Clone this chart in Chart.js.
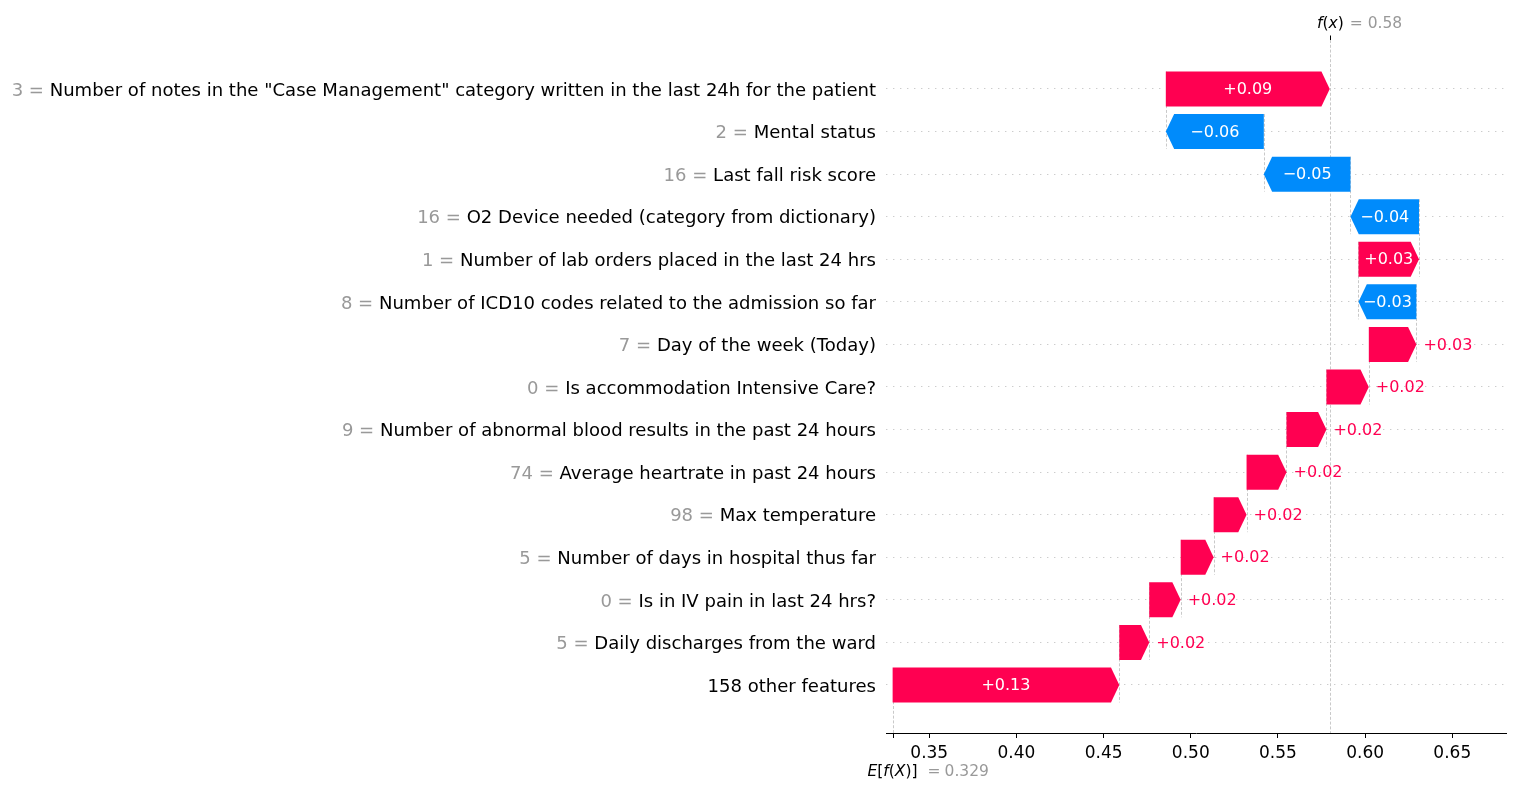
<!DOCTYPE html>
<html><head><meta charset="utf-8">
<style>html,body{margin:0;padding:0;background:#fff;} #wrap{width:1514px;height:790px;position:relative}</style>
<script src="https://cdn.jsdelivr.net/npm/chart.js@4/dist/chart.umd.min.js"></script>
</head><body><div id="wrap"><canvas id="c" width="1514" height="790"></canvas></div>
<script>
// ---------------- data ----------------
const featureNames = [
  'Number of notes in the "Case Management" category written in the last 24h for the patient',
  'Mental status',
  'Last fall risk score',
  'O2 Device needed (category from dictionary)',
  'Number of lab orders placed in the last 24 hrs',
  'Number of ICD10 codes related to the admission so far',
  'Day of the week (Today)',
  'Is accommodation Intensive Care?',
  'Number of abnormal blood results in the past 24 hours',
  'Average heartrate in past 24 hours',
  'Max temperature',
  'Number of days in hospital thus far',
  'Is in IV pain in last 24 hrs?',
  'Daily discharges from the ward',
  '158 other features'
];
const featureValues = ['3','2','16','16','1','8','7','0','9','74','98','5','0','5',''];
const shapValues = [0.094, -0.0562, -0.0497, -0.0393, 0.0347, -0.0332, 0.0273, 0.0243,
                    0.0229, 0.0229, 0.0189, 0.0189, 0.0180, 0.0172, 0.1300];
const baseValue = 0.329;
const xTicks = [0.35, 0.40, 0.45, 0.50, 0.55, 0.60, 0.65];
const xMin = 0.3252, xMax = 0.6808;

// ---------------- styles ----------------
const RED = '#ff0051', BLUE = '#008bfb', GREY = '#999999';
const FAM = '"DejaVu Sans", sans-serif';
const Y_FONT_SIZE = 18.05;
const BAR_FONT = '16px ' + FAM;
const HEAD = 8.3;

// cumulative ranges (bottom row first)
const n = shapValues.length;
const ranges = new Array(n);
let acc = baseValue;
for (let i = n - 1; i >= 0; i--) { ranges[i] = [acc, acc + shapValues[i]]; acc += shapValues[i]; }
const fx = acc;

function fmtTrim(v, d) { let s = v.toFixed(d); if (s.indexOf('.') >= 0) s = s.replace(/0+$/, '').replace(/\.$/, ''); return s; }
function fmtSigned(v) { const s = Math.abs(v).toFixed(2); return (v >= 0 ? '+' : '\u2212') + s; }

const waterfall = {
  id: 'waterfall',
  beforeDatasetsDraw(chart) {
    const ctx = chart.ctx, xs = chart.scales.x, ys = chart.scales.y, ca = chart.chartArea;
    ctx.save();
    ctx.strokeStyle = '#bbbbbb'; ctx.lineWidth = 0.8; ctx.setLineDash([3, 1.8]);
    for (let i = 0; i < n - 1; i++) {
      const x = Math.round(xs.getPixelForValue(ranges[i][0])) + 0.5;
      ctx.beginPath();
      ctx.moveTo(x, ys.getPixelForValue(i - 0.41));
      ctx.lineTo(x, ys.getPixelForValue(i + 1 + 0.41));
      ctx.stroke();
    }
    const fxp = Math.round(xs.getPixelForValue(fx)) + 0.5;
    ctx.beginPath(); ctx.moveTo(fxp, ca.top); ctx.lineTo(fxp, ca.bottom); ctx.stroke();
    const bp = Math.round(xs.getPixelForValue(baseValue)) + 0.5;
    ctx.beginPath(); ctx.moveTo(bp, ca.bottom); ctx.lineTo(bp, ca.bottom - (ca.bottom - ca.top) / n); ctx.stroke();
    ctx.restore();
  },
  afterDatasetsDraw(chart) {
    const ctx = chart.ctx, meta = chart.getDatasetMeta(0);
    ctx.save();
    meta.data.forEach((el, i) => {
      const p = el.getProps(['x', 'y', 'base', 'height'], true);
      const left = Math.min(p.x, p.base), right = Math.max(p.x, p.base);
      const top = p.y - p.height / 2, bot = p.y + p.height / 2;
      const w = right - left, h = Math.min(HEAD, w);
      const pos = shapValues[i] >= 0;
      ctx.fillStyle = pos ? RED : BLUE;
      ctx.beginPath();
      if (pos) {
        ctx.moveTo(left, top); ctx.lineTo(right - h, top); ctx.lineTo(right, p.y);
        ctx.lineTo(right - h, bot); ctx.lineTo(left, bot);
      } else {
        ctx.moveTo(right, top); ctx.lineTo(left + h, top); ctx.lineTo(left, p.y);
        ctx.lineTo(left + h, bot); ctx.lineTo(right, bot);
      }
      ctx.closePath(); ctx.fill();
      const txt = fmtSigned(shapValues[i]);
      ctx.font = BAR_FONT; ctx.textBaseline = 'middle';
      const tw = ctx.measureText(txt).width;
      if (tw + 2 < w) {
        ctx.fillStyle = '#ffffff'; ctx.textAlign = 'center';
        ctx.fillText(txt, (left + right) / 2, p.y + 1);
      } else if (pos) {
        ctx.fillStyle = RED; ctx.textAlign = 'left';
        ctx.fillText(txt, right + 7, p.y + 1);
      } else {
        ctx.fillStyle = BLUE; ctx.textAlign = 'right';
        ctx.fillText(txt, left - 7, p.y + 1);
      }
    });
    ctx.restore();
  },
  afterDraw(chart) {
    const ctx = chart.ctx, xs = chart.scales.x, ys = chart.scales.y, ca = chart.chartArea;
    ctx.save();
    ctx.font = Y_FONT_SIZE + 'px ' + FAM;
    ctx.textBaseline = 'middle'; ctx.textAlign = 'right'; ctx.fillStyle = GREY;
    const labelRight = ca.left - 10;
    for (let i = 0; i < n; i++) {
      if (!featureValues[i]) continue;
      const nw = ctx.measureText(featureNames[i]).width;
      ctx.fillText(featureValues[i] + ' = ', labelRight - nw, ys.getPixelForValue(i) + 2);
    }
    const fxp = Math.round(xs.getPixelForValue(fx)) + 0.5;
    ctx.strokeStyle = '#000'; ctx.lineWidth = 1;
    ctx.beginPath(); ctx.moveTo(fxp, ca.top - 4.5); ctx.lineTo(fxp, ca.top); ctx.stroke();
    const bp = Math.round(xs.getPixelForValue(baseValue)) + 0.5;
    ctx.beginPath(); ctx.moveTo(bp, ca.bottom); ctx.lineTo(bp, ca.bottom + 5); ctx.stroke();
    function drawPieces(pieces, x, y) {
      ctx.textAlign = 'left'; ctx.textBaseline = 'alphabetic';
      for (const pc of pieces) {
        ctx.font = (pc.it ? 'italic ' : '') + '15.5px ' + FAM;
        ctx.fillStyle = pc.c || '#000';
        if (pc.dx) x += pc.dx;
        ctx.fillText(pc.t, x, y);
        x += ctx.measureText(pc.t).width;
      }
    }
    drawPieces([
      {t: 'f', it: true}, {t: '('}, {t: 'x', it: true}, {t: ')'},
      {t: '=', c: GREY, dx: 6}, {t: fmtTrim(fx, 3), c: GREY, dx: 5}
    ], fxp - 13.5, 27.5);
    drawPieces([
      {t: 'E', it: true}, {t: '['}, {t: 'f', it: true}, {t: '('}, {t: 'X', it: true}, {t: ')'}, {t: ']'},
      {t: '=', c: GREY, dx: 10}, {t: fmtTrim(baseValue, 3), c: GREY, dx: 4}
    ], bp - 26, 775.5);
    ctx.restore();
  }
};

new Chart(document.getElementById('c'), {
  type: 'bar',
  data: {
    datasets: [{
      data: shapValues.map((v, i) => ({ y: i, x: ranges[i] })),
      backgroundColor: 'rgba(0,0,0,0)',
      borderWidth: 0,
      barThickness: 35
    }]
  },
  options: {
    indexAxis: 'y',
    responsive: false,
    devicePixelRatio: 1,
    animation: false,
    events: [],
    layout: { padding: { left: 0, right: 8, top: 40, bottom: 0 } },
    plugins: { legend: { display: false }, tooltip: { enabled: false }, title: { display: false } },
    scales: {
      x: {
        type: 'linear', position: 'bottom', min: xMin, max: xMax, offset: false,
        afterBuildTicks: s => { s.ticks = xTicks.map(v => ({ value: v })); },
        afterFit: s => { s.height = 57; },
        grid: { drawOnChartArea: false, drawTicks: true, tickLength: 5, color: '#000', lineWidth: 1, offset: false },
        border: { display: true, color: '#000', width: 1 },
        ticks: { color: '#000', font: { family: FAM, size: 17 }, padding: 5, maxRotation: 0, autoSkip: false,
                 callback: v => v.toFixed(2) }
      },
      y: {
        type: 'linear', position: 'left', reverse: true, min: -1.151, max: 15.128, offset: false,
        afterBuildTicks: s => { s.ticks = featureNames.map((_, i) => ({ value: i })); },
        afterFit: s => { s.width = 886; },
        grid: { drawOnChartArea: true, drawTicks: false, color: '#cccccc', lineWidth: 1, offset: false },
        border: { display: false, dash: [1.4, 5.6] },
        ticks: { color: '#000', font: { family: FAM, size: Y_FONT_SIZE }, padding: 10, autoSkip: false,
                 labelOffset: 2,
                 callback: v => featureNames[v] }
      }
    }
  },
  plugins: [waterfall]
});
</script>
</body></html>
